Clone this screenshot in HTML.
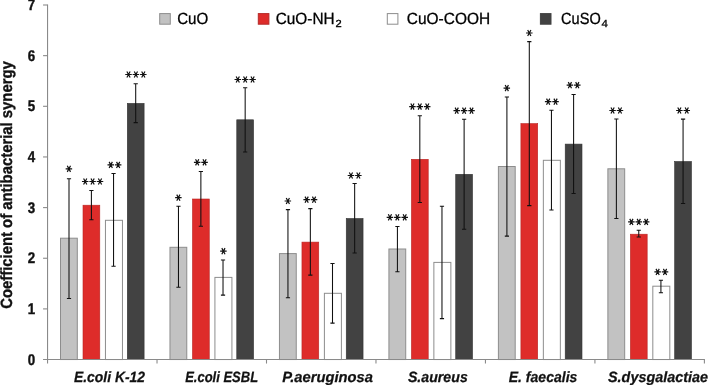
<!DOCTYPE html>
<html><head><meta charset="utf-8"><title>chart</title>
<style>html,body{margin:0;padding:0;background:#fff}svg{display:block}.t{filter:grayscale(1);text-rendering:geometricPrecision}</style>
</head><body>
<svg width="709" height="385" viewBox="0 0 709 385">
<rect width="709" height="385" fill="#fff"/>
<rect x="60.50" y="238.20" width="16.80" height="121.35" fill="#c2c2c2" stroke="#8d8d8d" stroke-width="1"/>
<rect x="83.00" y="205.20" width="16.80" height="154.35" fill="#de2c2a" stroke="#b82624" stroke-width="0.6"/>
<rect x="105.45" y="220.30" width="17.00" height="139.25" fill="#ffffff" stroke="#8d8d8d" stroke-width="1"/>
<rect x="127.30" y="103.40" width="16.80" height="256.15" fill="#424242" stroke="#333333" stroke-width="0.6"/>
<rect x="169.97" y="247.30" width="16.80" height="112.25" fill="#c2c2c2" stroke="#8d8d8d" stroke-width="1"/>
<rect x="192.47" y="199.00" width="16.80" height="160.55" fill="#de2c2a" stroke="#b82624" stroke-width="0.6"/>
<rect x="214.92" y="277.40" width="17.00" height="82.15" fill="#ffffff" stroke="#8d8d8d" stroke-width="1"/>
<rect x="236.77" y="119.80" width="16.80" height="239.75" fill="#424242" stroke="#333333" stroke-width="0.6"/>
<rect x="279.45" y="253.60" width="16.80" height="105.95" fill="#c2c2c2" stroke="#8d8d8d" stroke-width="1"/>
<rect x="301.95" y="242.10" width="16.80" height="117.45" fill="#de2c2a" stroke="#b82624" stroke-width="0.6"/>
<rect x="324.40" y="293.30" width="17.00" height="66.25" fill="#ffffff" stroke="#8d8d8d" stroke-width="1"/>
<rect x="346.25" y="218.50" width="16.80" height="141.05" fill="#424242" stroke="#333333" stroke-width="0.6"/>
<rect x="388.92" y="249.00" width="16.80" height="110.55" fill="#c2c2c2" stroke="#8d8d8d" stroke-width="1"/>
<rect x="411.42" y="159.30" width="16.80" height="200.25" fill="#de2c2a" stroke="#b82624" stroke-width="0.6"/>
<rect x="433.87" y="262.40" width="17.00" height="97.15" fill="#ffffff" stroke="#8d8d8d" stroke-width="1"/>
<rect x="455.72" y="174.30" width="16.80" height="185.25" fill="#424242" stroke="#333333" stroke-width="0.6"/>
<rect x="498.40" y="166.50" width="16.80" height="193.05" fill="#c2c2c2" stroke="#8d8d8d" stroke-width="1"/>
<rect x="520.90" y="123.60" width="16.80" height="235.95" fill="#de2c2a" stroke="#b82624" stroke-width="0.6"/>
<rect x="543.35" y="160.30" width="17.00" height="199.25" fill="#ffffff" stroke="#8d8d8d" stroke-width="1"/>
<rect x="565.20" y="144.10" width="16.80" height="215.45" fill="#424242" stroke="#333333" stroke-width="0.6"/>
<rect x="607.88" y="168.80" width="16.80" height="190.75" fill="#c2c2c2" stroke="#8d8d8d" stroke-width="1"/>
<rect x="630.38" y="234.20" width="16.80" height="125.35" fill="#de2c2a" stroke="#b82624" stroke-width="0.6"/>
<rect x="652.82" y="286.20" width="17.00" height="73.35" fill="#ffffff" stroke="#8d8d8d" stroke-width="1"/>
<rect x="674.67" y="161.50" width="16.80" height="198.05" fill="#424242" stroke="#333333" stroke-width="0.6"/>
<g stroke="#8a8a8a" stroke-width="1.1" fill="none">
<line x1="47.55" y1="4.50" x2="47.55" y2="363.55"/>
<line x1="43.05" y1="359.55" x2="704.90" y2="359.55"/>
<line x1="43.05" y1="308.90" x2="47.55" y2="308.90"/>
<line x1="43.05" y1="258.25" x2="47.55" y2="258.25"/>
<line x1="43.05" y1="207.60" x2="47.55" y2="207.60"/>
<line x1="43.05" y1="156.95" x2="47.55" y2="156.95"/>
<line x1="43.05" y1="106.30" x2="47.55" y2="106.30"/>
<line x1="43.05" y1="55.65" x2="47.55" y2="55.65"/>
<line x1="43.05" y1="5.00" x2="47.55" y2="5.00"/>
<line x1="157.02" y1="359.55" x2="157.02" y2="363.55"/>
<line x1="266.50" y1="359.55" x2="266.50" y2="363.55"/>
<line x1="375.97" y1="359.55" x2="375.97" y2="363.55"/>
<line x1="485.45" y1="359.55" x2="485.45" y2="363.55"/>
<line x1="594.92" y1="359.55" x2="594.92" y2="363.55"/>
<line x1="704.40" y1="359.55" x2="704.40" y2="363.55"/>
</g>
<g stroke="#101010" stroke-width="1.05" fill="none">
<path d="M69.00 298.50V178.70M66.90 298.50h4.2M66.90 178.70h4.2"/>
<path d="M91.40 219.80V190.40M89.30 219.80h4.2M89.30 190.40h4.2"/>
<path d="M113.55 266.20V173.50M111.45 266.20h4.2M111.45 173.50h4.2"/>
<path d="M135.70 122.60V83.65M133.60 122.60h4.2M133.60 83.65h4.2"/>
<path d="M178.47 287.30V206.30M176.37 287.30h4.2M176.37 206.30h4.2"/>
<path d="M200.87 226.30V171.40M198.77 226.30h4.2M198.77 171.40h4.2"/>
<path d="M223.02 295.10V260.00M220.92 295.10h4.2M220.92 260.00h4.2"/>
<path d="M245.17 152.00V87.80M243.07 152.00h4.2M243.07 87.80h4.2"/>
<path d="M287.95 297.70V209.60M285.85 297.70h4.2M285.85 209.60h4.2"/>
<path d="M310.35 275.10V208.60M308.25 275.10h4.2M308.25 208.60h4.2"/>
<path d="M332.50 323.10V263.40M330.40 323.10h4.2M330.40 263.40h4.2"/>
<path d="M354.65 253.00V183.40M352.55 253.00h4.2M352.55 183.40h4.2"/>
<path d="M397.42 271.70V226.50M395.32 271.70h4.2M395.32 226.50h4.2"/>
<path d="M419.82 202.50V115.70M417.72 202.50h4.2M417.72 115.70h4.2"/>
<path d="M441.97 318.60V206.20M439.87 318.60h4.2M439.87 206.20h4.2"/>
<path d="M464.12 229.20V119.20M462.02 229.20h4.2M462.02 119.20h4.2"/>
<path d="M506.90 236.10V96.90M504.80 236.10h4.2M504.80 96.90h4.2"/>
<path d="M529.30 205.60V41.60M527.20 205.60h4.2M527.20 41.60h4.2"/>
<path d="M551.45 210.00V110.20M549.35 210.00h4.2M549.35 110.20h4.2"/>
<path d="M573.60 193.50V94.40M571.50 193.50h4.2M571.50 94.40h4.2"/>
<path d="M616.38 218.40V118.90M614.27 218.40h4.2M614.27 118.90h4.2"/>
<path d="M638.77 237.00V230.30M636.67 237.00h4.2M636.67 230.30h4.2"/>
<path d="M660.92 292.70V280.30M658.82 292.70h4.2M658.82 280.30h4.2"/>
<path d="M683.07 203.50V119.10M680.97 203.50h4.2M680.97 119.10h4.2"/>
</g>
<g stroke="#111" stroke-width="1.2" fill="none">
<path d="M65.65 168.80H72.15M67.28 165.75L70.52 171.85M70.52 165.75L67.28 171.85"/>
<path d="M81.95 181.50H88.45M83.58 178.45L86.82 184.55M86.82 178.45L83.58 184.55M89.35 181.50H95.85M90.98 178.45L94.22 184.55M94.22 178.45L90.98 184.55M96.75 181.50H103.25M98.38 178.45L101.62 184.55M101.62 178.45L98.38 184.55"/>
<path d="M107.50 164.90H114.00M109.13 161.85L112.37 167.95M112.37 161.85L109.13 167.95M114.90 164.90H121.40M116.53 161.85L119.77 167.95M119.77 161.85L116.53 167.95"/>
<path d="M125.25 74.50H131.75M126.88 71.45L130.12 77.55M130.12 71.45L126.88 77.55M132.65 74.50H139.15M134.28 71.45L137.52 77.55M137.52 71.45L134.28 77.55M140.05 74.50H146.55M141.68 71.45L144.92 77.55M144.92 71.45L141.68 77.55"/>
<path d="M175.12 197.70H181.62M176.76 194.65L179.99 200.75M179.99 194.65L176.76 200.75"/>
<path d="M193.92 162.30H200.42M195.56 159.25L198.79 165.35M198.79 159.25L195.56 165.35M201.32 162.30H207.82M202.96 159.25L206.19 165.35M206.19 159.25L202.96 165.35"/>
<path d="M220.17 251.20H226.67M221.81 248.15L225.04 254.25M225.04 248.15L221.81 254.25"/>
<path d="M234.52 79.50H241.02M236.16 76.45L239.39 82.55M239.39 76.45L236.16 82.55M241.92 79.50H248.42M243.56 76.45L246.79 82.55M246.79 76.45L243.56 82.55M249.32 79.50H255.82M250.96 76.45L254.19 82.55M254.19 76.45L250.96 82.55"/>
<path d="M284.60 201.00H291.10M286.23 197.95L289.47 204.05M289.47 197.95L286.23 204.05"/>
<path d="M303.40 199.70H309.90M305.03 196.65L308.27 202.75M308.27 196.65L305.03 202.75M310.80 199.70H317.30M312.43 196.65L315.67 202.75M315.67 196.65L312.43 202.75"/>
<path d="M347.70 175.50H354.20M349.33 172.45L352.57 178.55M352.57 172.45L349.33 178.55M355.10 175.50H361.60M356.73 172.45L359.97 178.55M359.97 172.45L356.73 178.55"/>
<path d="M386.67 217.30H393.17M388.31 214.25L391.54 220.35M391.54 214.25L388.31 220.35M394.07 217.30H400.57M395.71 214.25L398.94 220.35M398.94 214.25L395.71 220.35M401.47 217.30H407.97M403.11 214.25L406.34 220.35M406.34 214.25L403.11 220.35"/>
<path d="M409.17 106.60H415.67M410.81 103.55L414.04 109.65M414.04 103.55L410.81 109.65M416.57 106.60H423.07M418.21 103.55L421.44 109.65M421.44 103.55L418.21 109.65M423.97 106.60H430.47M425.61 103.55L428.84 109.65M428.84 103.55L425.61 109.65"/>
<path d="M453.47 110.70H459.97M455.11 107.65L458.34 113.75M458.34 107.65L455.11 113.75M460.87 110.70H467.37M462.51 107.65L465.74 113.75M465.74 107.65L462.51 113.75M468.27 110.70H474.77M469.91 107.65L473.14 113.75M473.14 107.65L469.91 113.75"/>
<path d="M503.55 88.10H510.05M505.18 85.05L508.42 91.15M508.42 85.05L505.18 91.15"/>
<path d="M526.05 33.00H532.55M527.68 29.95L530.92 36.05M530.92 29.95L527.68 36.05"/>
<path d="M544.90 101.70H551.40M546.53 98.65L549.77 104.75M549.77 98.65L546.53 104.75M552.30 101.70H558.80M553.93 98.65L557.17 104.75M557.17 98.65L553.93 104.75"/>
<path d="M566.65 85.20H573.15M568.28 82.15L571.52 88.25M571.52 82.15L568.28 88.25M574.05 85.20H580.55M575.68 82.15L578.92 88.25M578.92 82.15L575.68 88.25"/>
<path d="M609.32 110.50H615.82M610.96 107.45L614.19 113.55M614.19 107.45L610.96 113.55M616.73 110.50H623.23M618.36 107.45L621.59 113.55M621.59 107.45L618.36 113.55"/>
<path d="M628.12 221.90H634.62M629.76 218.85L632.99 224.95M632.99 218.85L629.76 224.95M635.52 221.90H642.02M637.16 218.85L640.39 224.95M640.39 218.85L637.16 224.95M642.92 221.90H649.42M644.56 218.85L647.79 224.95M647.79 218.85L644.56 224.95"/>
<path d="M654.37 271.90H660.87M656.01 268.85L659.24 274.95M659.24 268.85L656.01 274.95M661.77 271.90H668.27M663.41 268.85L666.64 274.95M666.64 268.85L663.41 274.95"/>
<path d="M676.12 110.50H682.62M677.76 107.45L680.99 113.55M680.99 107.45L677.76 113.55M683.52 110.50H690.02M685.16 107.45L688.39 113.55M688.39 107.45L685.16 113.55"/>
</g>
<g font-family="Liberation Sans, sans-serif" font-size="15.5" font-weight="bold" fill="#111" stroke="#111" stroke-width="0.4" text-anchor="end" class="t">
<text transform="translate(35.15,364.70) scale(0.86,1.0)">0</text>
<text transform="translate(35.15,314.05) scale(0.86,1.0)">1</text>
<text transform="translate(35.15,263.40) scale(0.86,1.0)">2</text>
<text transform="translate(35.15,212.75) scale(0.86,1.0)">3</text>
<text transform="translate(35.15,162.10) scale(0.86,1.0)">4</text>
<text transform="translate(35.15,111.45) scale(0.86,1.0)">5</text>
<text transform="translate(35.15,60.80) scale(0.86,1.0)">6</text>
<text transform="translate(35.15,10.15) scale(0.86,1.0)">7</text>
</g>
<g font-family="Liberation Sans, sans-serif" font-size="14.9" font-weight="bold" font-style="italic" fill="#111" stroke="#111" stroke-width="0.25" class="t">
<text x="74.00" y="381.8" textLength="71.00" lengthAdjust="spacingAndGlyphs">E.coli K-12</text>
<text x="185.20" y="381.8" textLength="72.90" lengthAdjust="spacingAndGlyphs">E.coli ESBL</text>
<text x="282.20" y="381.8" textLength="90.80" lengthAdjust="spacingAndGlyphs">P.aeruginosa</text>
<text x="407.90" y="381.8" textLength="59.90" lengthAdjust="spacingAndGlyphs">S.aureus</text>
<text x="508.70" y="381.8" textLength="68.70" lengthAdjust="spacingAndGlyphs">E. faecalis</text>
<text x="608.00" y="381.8" textLength="100.00" lengthAdjust="spacingAndGlyphs">S.dysgalactiae</text>
</g>
<text transform="translate(12.3,308.8) rotate(-90)" font-family="Liberation Sans, sans-serif" font-size="16.3" font-weight="bold" fill="#111" stroke="#111" stroke-width="0.35" class="t" textLength="247.6" lengthAdjust="spacingAndGlyphs">Coefficient of antibacterial synergy</text>
<rect x="159.70" y="13.6" width="10.6" height="10.6" fill="#c2c2c2" stroke="#8d8d8d" stroke-width="1"/>
<rect x="258.30" y="13.6" width="10.6" height="10.6" fill="#de2c2a" stroke="#b52a28" stroke-width="1"/>
<rect x="387.30" y="13.6" width="10.6" height="10.6" fill="#ffffff" stroke="#8d8d8d" stroke-width="1"/>
<rect x="540.40" y="13.6" width="10.6" height="10.6" fill="#424242" stroke="#424242" stroke-width="1"/>
<g font-family="Liberation Sans, sans-serif" fill="#000" stroke="#000" stroke-width="0.3" class="t">
<text x="177.20" y="24" font-size="16.3" textLength="31.10" lengthAdjust="spacingAndGlyphs">CuO</text>
<text x="275.70" y="24" font-size="16.3" textLength="58.90" lengthAdjust="spacingAndGlyphs">CuO-NH</text>
<text x="335.50" y="27" font-size="10.3" textLength="6.20" lengthAdjust="spacingAndGlyphs">2</text>
<text x="406.80" y="24" font-size="16.3" textLength="83.30" lengthAdjust="spacingAndGlyphs">CuO-COOH</text>
<text x="561.10" y="24" font-size="16.3" textLength="39.60" lengthAdjust="spacingAndGlyphs">CuSO</text>
<text x="601.50" y="27" font-size="10.3" textLength="6.40" lengthAdjust="spacingAndGlyphs">4</text>
</g>
</svg>
</body></html>
